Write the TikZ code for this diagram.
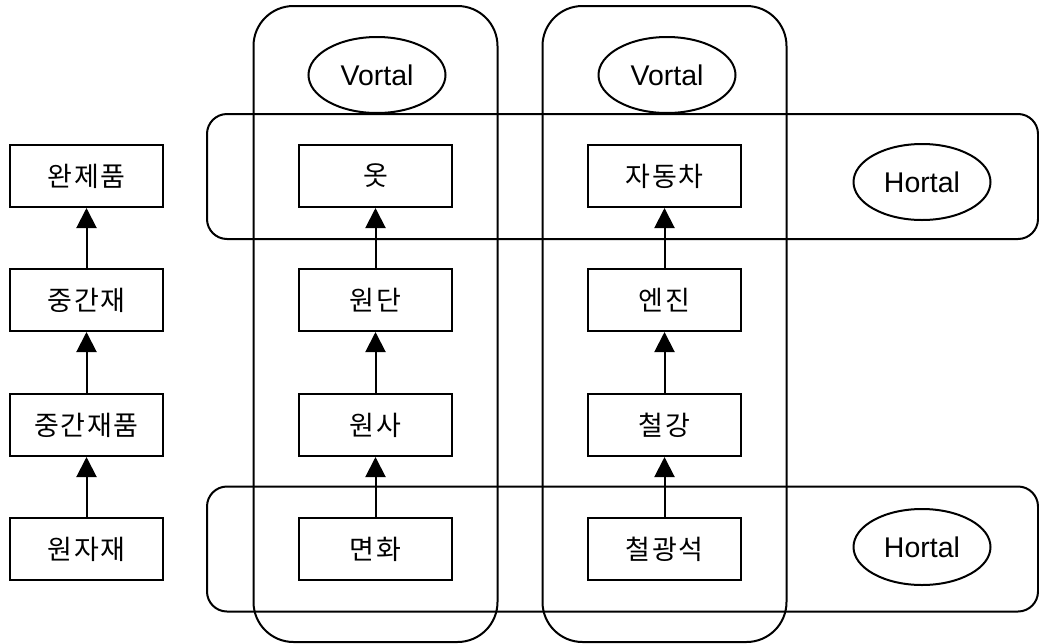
\documentclass[tikz,border=0pt]{standalone}
\usepackage{fontspec}
\setmainfont{Liberation Sans}
\newfontfamily\kr[LetterSpace=6]{Noto Sans CJK KR}
\usetikzlibrary{arrows.meta,shapes.geometric}
\begin{document}
\begin{tikzpicture}[x=1pt,y=-1pt,
  box/.style={draw,line width=2pt,fill=white,minimum width=153pt,minimum height=62pt,inner sep=0pt,font=\kr\fontsize{27}{30}\selectfont},
  vgroup/.style={draw,line width=2pt,rounded corners=40pt,minimum width=244pt,minimum height=636pt,inner sep=0pt},
  hgroup/.style={draw,line width=2pt,rounded corners=20pt,minimum width=831pt,minimum height=125pt,inner sep=0pt},
  tag/.style={draw,ellipse,line width=2pt,minimum width=137pt,minimum height=76pt,inner sep=0pt,font=\fontsize{28.5}{32}\selectfont},
  up/.style={-{Triangle[width=20pt,length=20pt]},line width=2pt}]
\useasboundingbox (0,0) rectangle (1039,643);
% groups
\node[vgroup] (v1) at (375.5,324) {};
\node[vgroup] (v2) at (664.5,324) {};
\node[hgroup] (h1) at (622.5,176.5) {};
\node[hgroup] (h2) at (622.5,549) {};
% labels
\node[tag] (vt1) at (377,75) {Vortal};
\node[tag] (vt2) at (667,75) {Vortal};
\node[tag] (ht1) at (922,182) {Hortal};
\node[tag] (ht2) at (922,547) {Hortal};
% left column
\node[box] (a1) at (86.5,176) {완제품};
\node[box] (a2) at (86.5,300) {중간재};
\node[box] (a3) at (86.5,425) {중간재품};
\node[box] (a4) at (86.5,549) {원자재};
% middle column
\node[box] (b1) at (375.5,176) {옷};
\node[box] (b2) at (375.5,300) {원단};
\node[box] (b3) at (375.5,425) {원사};
\node[box] (b4) at (375.5,549) {면화};
% right column
\node[box] (c1) at (664.5,176) {자동차};
\node[box] (c2) at (664.5,300) {엔진};
\node[box] (c3) at (664.5,425) {철강};
\node[box] (c4) at (664.5,549) {철광석};
% arrows
\foreach \p in {a,b,c}{
  \draw[up] (\p4.north) -- (\p3.south);
  \draw[up] (\p3.north) -- (\p2.south);
  \draw[up] (\p2.north) -- (\p1.south);
}
\end{tikzpicture}
\end{document}
